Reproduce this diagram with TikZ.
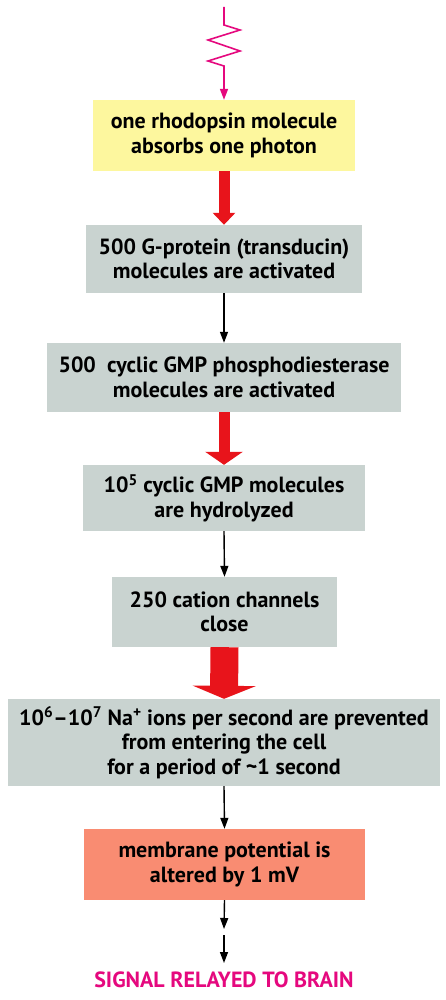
\documentclass[tikz,border=0pt]{standalone}
\usepackage{fontspec}
\setmainfont{PT Sans}
\usetikzlibrary{arrows.meta,calc}
\definecolor{pinkm}{HTML}{E5087E}
\definecolor{ylw}{HTML}{FDF79E}
\definecolor{grayb}{HTML}{C9D3D0}
\definecolor{salmon}{HTML}{F98C72}
\definecolor{redarr}{HTML}{E8141B}
\tikzset{
  box/.style={rectangle, fill=grayb, inner sep=0pt, align=center,
    font=\fontsize{22}{24.5}\selectfont\bfseries, text=black},
  fatarrow/.style={draw=redarr, line width=#1},
  thinarrow/.style={draw=black, line width=1.4pt, -{Triangle[width=8pt,length=11pt]}},
}
\begin{document}
\begin{tikzpicture}[x=1pt,y=-1pt]
\useasboundingbox (0,0) rectangle (446,1000);
\fill[white] (0,0) rectangle (446,1000);
% boxes
\node[box, fill=ylw, minimum width=262pt, minimum height=71pt] (y) at (224,135.5)
  {one rhodopsin molecule\\absorbs one photon};
\node[box, minimum width=276pt, minimum height=68pt] (b1) at (224,259)
  {500 G-protein (transducin)\\molecules are activated};
\node[box, minimum width=354pt, minimum height=69pt] (b2) at (224,377.5)
  {500 \ cyclic GMP phosphodiesterase\\molecules are activated};
\node[box, minimum width=282pt, minimum height=66pt] (b3) at (224,498)
  {10\textsuperscript{5} cyclic GMP molecules\\are hydrolyzed};
\node[box, minimum width=225pt, minimum height=70pt] (b4) at (224.5,612)
  {250 cation channels\\close};
\node[box, minimum width=432pt, minimum height=87pt] (b5) at (224,742.5)
  {10\textsuperscript{6}--10\textsuperscript{7} Na\textsuperscript{+} ions per second are prevented\\from entering the cell\\for a period of \textasciitilde1 second};
\node[box, fill=salmon, minimum width=281pt, minimum height=71pt] (b6) at (224.5,864.5)
  {membrane potential is\\altered by 1 mV};
\node[font=\fontsize{22}{24.5}\selectfont\bfseries, text=pinkm, inner sep=0pt, anchor=base] (sig) at (224,987)
  {SIGNAL RELAYED TO BRAIN};
% zigzag photon
\coordinate (z0) at (224,7);
\draw[pinkm, line width=1.6pt, line join=miter, -{Triangle[width=8pt,length=11pt]}]
  (z0) -- (224,25) -- (240,30) -- (208,40) -- (240,51) -- (208,61) -- (224,66) -- (y.north);
% red arrows
\draw[fatarrow=11pt, -{Triangle[width=22pt,length=12pt]}] (y.south) -- (b1.north);
\draw[fatarrow=11pt, -{Triangle[width=37pt,length=13pt]}] (b2.south) -- (b3.north);
\draw[fatarrow=28pt, -{Triangle[width=63pt,length=13pt]}] (b4.south) -- (b5.north);
% black arrows
\draw[thinarrow] (b1.south) -- (b2.north);
\draw[thinarrow] (b3.south) -- (b4.north);
\draw[thinarrow] (b5.south) -- (b6.north);
\coordinate (m1) at (224,929);
\coordinate (m2) at (224,935);
\coordinate (m3) at (224,963);
\draw[thinarrow] (b6.south) -- (m1);
\draw[thinarrow] (m2) -- (m3);
\end{tikzpicture}
\end{document}
